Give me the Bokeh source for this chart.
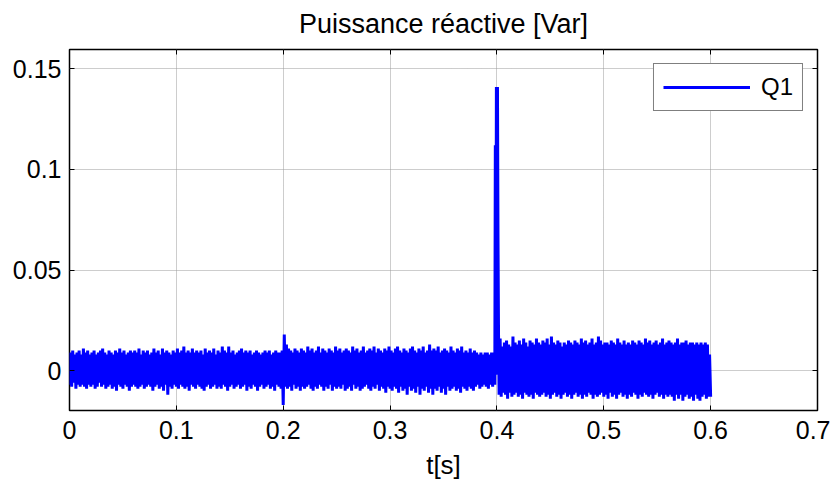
from bokeh.plotting import figure
from bokeh.models import Range1d, LinearAxis, Legend, LegendItem
from bokeh.embed import file_html
from bokeh.resources import INLINE

# ---------------- data ----------------
title_text = "Puissance réactive [Var]"
x_label = "t[s]"
series_name = "Q1"

x_ticks = [0, 0.1, 0.2, 0.3, 0.4, 0.5, 0.6, 0.7]
x_tick_labels = ["0", "0.1", "0.2", "0.3", "0.4", "0.5", "0.6", "0.7"]
y_ticks = [0, 0.05, 0.1, 0.15]
y_tick_labels = ["0", "0.05", "0.1", "0.15"]

# sample step of the noisy segments [s]
dt = 0.001

# Q1 in mVar, t = 0.000 ... 0.398 s
q_before_mvar = [
    -7, 9, -8, 10, -6, 8, -9, 9, -7, 10, -8, 8, -7, 11, -8, 9, -9, 10, -7, 8,
    -8, 9, -7, 10, -9, 8, -8, 9, -6, 10, -8, 11, -7, 9, -9, 8, -8, 10, -7, 9,
    -9, 8, -8, 10, -10, 9, -7, 11, -8, 9, -9, 10, -7, 8, -8, 9, -10, 10, -8, 9,
    -7, 10, -8, 9, -9, 11, -8, 8, -7, 10, -9, 9, -8, 10, -7, 8, -8, 9, -10, 11,
    -8, 9, -7, 10, -9, 8, -8, 11, -10, 9, -7, 10, -12, 9, -8, 8, -9, 10, -7, 9,
    -8, 11, -9, 9, -7, 10, -8, 12, -9, 9, -8, 10, -10, 9, -7, 11, -8, 9, -9, 10,
    -7, 9, -8, 10, -9, 8, -10, 11, -8, 9, -7, 10, -9, 9, -8, 11, -7, 8, -9, 10,
    -8, 9, -9, 12, -7, 10, -8, 9, -10, 12, -8, 9, -7, 10, -9, 8, -8, 9, -7, 10,
    -9, 11, -8, 9, -7, 10, -10, 9, -8, 10, -9, 8, -7, 9, -8, 10, -10, 9, -8, 8,
    -7, 9, -9, 10, -8, 9, -7, 10, -9, 8, -8, 9, -10, 10, -7, 9, -8, 9, -9, 10,
    -17, 18, -8, 13, -9, 11, -8, 10, -10, 9, -7, 11, -9, 10, -8, 9, -10, 11, -8, 10,
    -9, 9, -8, 12, -7, 10, -9, 11, -10, 9, -8, 10, -9, 12, -7, 9, -8, 11, -10, 10,
    -8, 9, -9, 11, -7, 10, -10, 9, -8, 12, -9, 10, -8, 11, -9, 9, -7, 10, -10, 11,
    -9, 10, -8, 9, -10, 12, -7, 10, -9, 11, -8, 9, -10, 10, -9, 12, -8, 9, -7, 10,
    -9, 11, -10, 10, -8, 12, -9, 9, -7, 11, -10, 10, -8, 9, -9, 11, -11, 10, -8, 12,
    -9, 10, -10, 9, -8, 11, -9, 12, -11, 10, -8, 9, -10, 11, -9, 10, -12, 9, -8, 11,
    -10, 12, -9, 10, -11, 9, -8, 11, -12, 10, -9, 12, -10, 9, -8, 10, -11, 13, -9, 10,
    -12, 11, -9, 10, -10, 12, -8, 9, -11, 10, -9, 11, -12, 10, -8, 9, -10, 12, -9, 10,
    -8, 9, -10, 11, -9, 10, -11, 12, -8, 9, -9, 10, -10, 9, -8, 11, -9, 9, -10, 10,
    -8, 9, -7, 8, -9, 9, -8, 8, -7, 9, -8, 9, -9, 8, -7, 9, -8, 9, -7,
]

# the transient around t = 0.4 s (mVar)
t_spike = [0.3985, 0.3990, 0.3995, 0.4000, 0.4005, 0.4010, 0.4015]
q_spike_mvar = [112, -2, 141, 0, 141, 66, 18]

# Q1 in mVar, t = 0.402 ... 0.600 s
q_after_mvar = [
    -12, 16, -13, 12, -11, 14, -12, 15, -14, 13, -11, 12, -13, 17, -12, 14, -11, 13, -13, 15,
    -12, 13, -14, 16, -11, 14, -12, 12, -13, 15, -12, 14, -14, 13, -11, 16, -12, 14, -13, 13,
    -12, 15, -11, 14, -13, 16, -12, 13, -14, 17, -12, 14, -11, 13, -13, 15, -12, 14, -14, 12,
    -12, 14, -11, 13, -13, 15, -12, 14, -14, 13, -12, 15, -11, 14, -13, 13, -12, 16, -14, 14,
    -12, 15, -13, 13, -11, 14, -12, 16, -14, 13, -12, 14, -13, 17, -12, 15, -11, 13, -13, 14,
    -12, 14, -14, 13, -11, 15, -13, 14, -12, 13, -14, 16, -12, 14, -11, 13, -13, 15, -12, 13,
    -14, 14, -12, 13, -13, 15, -11, 14, -12, 13, -14, 15, -12, 14, -13, 13, -11, 16, -12, 14,
    -13, 15, -12, 13, -14, 14, -12, 15, -11, 13, -13, 14, -12, 16, -14, 13, -12, 14, -13, 15,
    -12, 14, -13, 13, -15, 14, -12, 16, -14, 13, -12, 14, -15, 14, -13, 15, -12, 13, -14, 14,
    -13, 14, -15, 13, -12, 14, -14, 13, -15, 14, -13, 13, -12, 14, -14, 13, -13, 8, -13,
]

t_before = [round(i * dt, 4) for i in range(len(q_before_mvar))]
t_after = [round(0.402 + i * dt, 4) for i in range(len(q_after_mvar))]
t_all = t_before + t_spike + t_after
q_all = [v / 1000.0 for v in (q_before_mvar + q_spike_mvar + q_after_mvar)]

# ---------------- figure ----------------
FONT = "Liberation Sans"

p = figure(
    width=830, height=485,
    x_range=Range1d(0, 0.7), y_range=Range1d(-0.0198, 0.1596),
    output_backend="svg", toolbar_location=None,
    min_border_left=69, min_border_right=13, min_border_top=49, min_border_bottom=75,
)
p.background_fill_color = "white"
p.border_fill_color = "white"
p.outline_line_color = "black"
p.outline_line_width = 1.5

p.title.text = title_text
p.title.align = "center"
p.title.vertical_align = "top"
p.title.text_font = FONT
p.title.text_font_size = "27px"
p.title.text_font_style = "normal"
p.title.text_color = "black"
p.title.standoff = 17

r = p.line(t_all, q_all, line_color="#0000ff", line_width=3,
           line_join="bevel", line_cap="butt")

# mirrored axes (ticks only) on top and right
p.add_layout(LinearAxis(), "above")
p.add_layout(LinearAxis(), "right")

for ax in p.xaxis:
    ax.ticker = x_ticks
    ax.major_label_overrides = dict(zip(x_ticks, x_tick_labels))
for ax in p.yaxis:
    ax.ticker = y_ticks
    ax.major_label_overrides = dict(zip(y_ticks, y_tick_labels))

for ax in p.axis:
    ax.axis_line_color = None
    ax.major_tick_in = 5
    ax.major_tick_out = 0
    ax.major_tick_line_color = "black"
    ax.minor_tick_line_color = None
    ax.major_label_text_font = FONT
    ax.major_label_text_font_size = "25px"
    ax.major_label_text_color = "black"

# mirror axes: ticks only, labels not drawn
for ax in (p.above[-1], p.right[0]):
    ax.major_label_text_color = None
    ax.major_label_text_font_size = "1px"
    ax.major_label_standoff = 0

p.below[0].major_label_standoff = 10
p.below[0].axis_label = x_label
p.below[0].axis_label_text_font = FONT
p.below[0].axis_label_text_font_size = "26px"
p.below[0].axis_label_text_font_style = "normal"
p.below[0].axis_label_text_color = "black"
p.below[0].axis_label_standoff = 8
p.left[0].major_label_standoff = 8

p.grid.grid_line_color = "#9a9a9a"
p.grid.grid_line_dash = "1 1"
p.grid.grid_line_width = 1

legend = Legend(items=[LegendItem(label=series_name, renderers=[r])],
                location="top_right")
legend.margin = 14
legend.padding = 9
legend.spacing = 0
legend.glyph_width = 87
legend.glyph_height = 20
legend.label_height = 20
legend.label_standoff = 11
legend.label_text_font = FONT
legend.label_text_font_size = "24px"
legend.label_text_color = "black"
legend.border_line_color = "black"
legend.border_line_width = 1.5
legend.background_fill_color = "white"
legend.background_fill_alpha = 1.0
p.add_layout(legend)

open("out.html", "w").write(file_html(p, INLINE))
